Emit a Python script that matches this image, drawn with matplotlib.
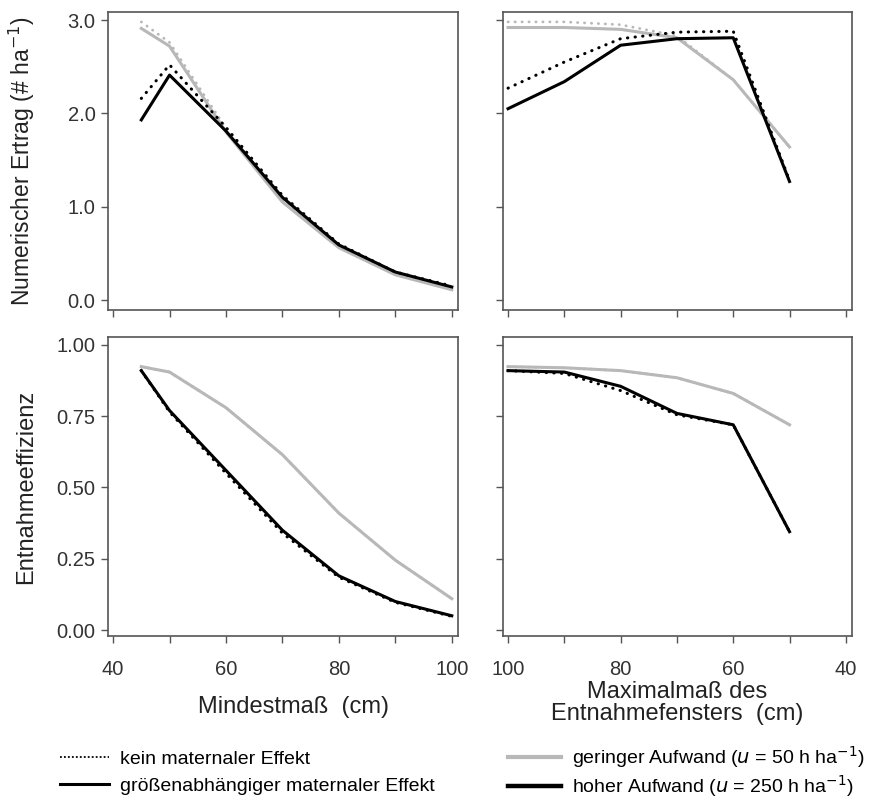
import matplotlib
matplotlib.use("Agg")
import matplotlib.pyplot as plt
from matplotlib.lines import Line2D

plt.rcParams['font.family'] = ['Liberation Sans', 'DejaVu Sans']

# Mindestmaß (cm)
min_x = [45, 50, 60, 70, 80, 90, 100]
# Maximalmaß des Entnahmefensters (cm)
max_x = [100, 90, 80, 70, 60, 50]

# Numerischer Ertrag, Mindestmaß
ertrag_min_low_none = [2.98, 2.76, 1.84, 1.07, 0.57, 0.28, 0.12]
ertrag_min_low_size = [2.91, 2.72, 1.80, 1.05, 0.56, 0.27, 0.11]
ertrag_min_high_none = [2.16, 2.52, 1.85, 1.12, 0.60, 0.30, 0.15]
ertrag_min_high_size = [1.93, 2.41, 1.81, 1.10, 0.59, 0.30, 0.14]

# Numerischer Ertrag, Maximalmaß
ertrag_max_low_none = [2.98, 2.98, 2.95, 2.83, 2.36, 1.64]
ertrag_max_low_size = [2.92, 2.92, 2.90, 2.81, 2.36, 1.64]
ertrag_max_high_none = [2.27, 2.55, 2.80, 2.87, 2.88, 1.28]
ertrag_max_high_size = [2.05, 2.34, 2.73, 2.80, 2.81, 1.27]

# Entnahmeeffizienz, Mindestmaß
eff_min_low_none = [0.924, 0.905, 0.78, 0.615, 0.41, 0.245, 0.11]
eff_min_low_size = [0.924, 0.905, 0.78, 0.615, 0.41, 0.245, 0.11]
eff_min_high_none = [0.91, 0.765, 0.55, 0.34, 0.185, 0.097, 0.048]
eff_min_high_size = [0.91, 0.77, 0.56, 0.35, 0.19, 0.10, 0.05]

# Entnahmeeffizienz, Maximalmaß
eff_max_low_none = [0.924, 0.92, 0.91, 0.885, 0.83, 0.72]
eff_max_low_size = [0.924, 0.92, 0.91, 0.885, 0.83, 0.72]
eff_max_high_none = [0.91, 0.90, 0.84, 0.755, 0.72, 0.345]
eff_max_high_size = [0.91, 0.905, 0.855, 0.76, 0.72, 0.345]

grey = '#b8b8b8'
dark = '#555555'
dots = dict(linestyle=(0, (0.1, 2.4)), dash_capstyle='round')

W, H = 880, 799
fig = plt.figure(figsize=(W / 100, H / 100), dpi=100)


def make_ax(left, right, top, bottom):
    return fig.add_axes([left / W, 1 - bottom / H, (right - left) / W, (bottom - top) / H])


ax_tl = make_ax(108, 458, 12, 310)
ax_tr = make_ax(503, 852, 12, 310)
ax_bl = make_ax(108, 458, 337, 636)
ax_br = make_ax(503, 852, 337, 636)


def draw(ax, x, low_none, low_size, high_none, high_size):
    ax.plot(x, low_none, color=grey, lw=2.0, **dots)
    ax.plot(x, low_size, color=grey, lw=2.2)
    ax.plot(x, high_none, color='black', lw=2.2, **dots)
    ax.plot(x, high_size, color='black', lw=2.2)


draw(ax_tl, min_x, ertrag_min_low_none, ertrag_min_low_size, ertrag_min_high_none, ertrag_min_high_size)
draw(ax_tr, max_x, ertrag_max_low_none, ertrag_max_low_size, ertrag_max_high_none, ertrag_max_high_size)
draw(ax_bl, min_x, eff_min_low_none, eff_min_low_size, eff_min_high_none, eff_min_high_size)
draw(ax_br, max_x, eff_max_low_none, eff_max_low_size, eff_max_high_none, eff_max_high_size)

for ax in [ax_tl, ax_bl]:
    ax.set_xlim(39.1, 101.1)
for ax in [ax_tr, ax_br]:
    ax.set_xlim(100.9, 38.9)
for ax in [ax_tl, ax_tr]:
    ax.set_ylim(-0.107, 3.086)
    ax.set_yticks([0, 1, 2, 3])
    ax.set_yticklabels(['0.0', '1.0', '2.0', '3.0'])
for ax in [ax_bl, ax_br]:
    ax.set_ylim(-0.021, 1.028)
    ax.set_yticks([0, 0.25, 0.5, 0.75, 1.0])
    ax.set_yticklabels(['0.00', '0.25', '0.50', '0.75', '1.00'])

for ax in [ax_tl, ax_tr, ax_bl, ax_br]:
    ax.set_xticks([40, 60, 80, 100])
    ax.set_xticks([50, 70, 90], minor=True)
    for s in ax.spines.values():
        s.set_color(dark)
        s.set_linewidth(1.2)
    ax.tick_params(which='both', length=5, width=1.0, color=dark, labelsize=14.5,
                   labelcolor='#333333')
    ax.tick_params(axis='x', which='both', pad=12)
    ax.tick_params(axis='y', pad=4)

ax_tl.tick_params(labelbottom=False)
ax_tr.tick_params(labelbottom=False, labelleft=False)
ax_br.tick_params(labelleft=False)

ax_tl.set_ylabel('Numerischer Ertrag (# ha$^{-1}$)', fontsize=16.5, color='#222222')
ax_tl.yaxis.set_label_coords(-0.203, 0.5)
ax_bl.set_ylabel('Entnahmeeffizienz', fontsize=17, color='#222222')
ax_bl.yaxis.set_label_coords(-0.203, 0.5)
ax_bl.set_xlabel('Mindestmaß  (cm)', fontsize=17, color='#222222')
ax_bl.xaxis.set_label_coords(0.53, -0.20)
ax_br.set_xlabel('Maximalmaß des\nEntnahmefensters  (cm)', fontsize=17, color='#222222',
                 linespacing=1.0)
ax_br.xaxis.set_label_coords(0.5, -0.15)

style_handles = [
    Line2D([], [], color='black', lw=1.3, linestyle=(0, (1, 1.2))),
    Line2D([], [], color='black', lw=2.2),
]
style_labels = ['kein maternaler Effekt', 'größenabhängiger maternaler Effekt']
effort_handles = [
    Line2D([], [], color=grey, lw=3),
    Line2D([], [], color='black', lw=3.2),
]
effort_labels = ['geringer Aufwand ($u$ = 50 h ha$^{-1}$)', 'hoher Aufwand ($u$ = 250 h ha$^{-1}$)']

leg_kw = dict(frameon=False, fontsize=14, handletextpad=0.6,
              borderaxespad=0, borderpad=0)
l1 = fig.legend(style_handles, style_labels, loc='upper left', handlelength=2.5,
                labelspacing=0.5, bbox_to_anchor=(60 / W, 1 - 750 / H), **leg_kw)
l2 = fig.legend(effort_handles, effort_labels, loc='upper left', handlelength=2.7,
                labelspacing=0.15, bbox_to_anchor=(508 / W, 1 - 744 / H), **leg_kw)

fig.savefig('out.png', dpi=100)
